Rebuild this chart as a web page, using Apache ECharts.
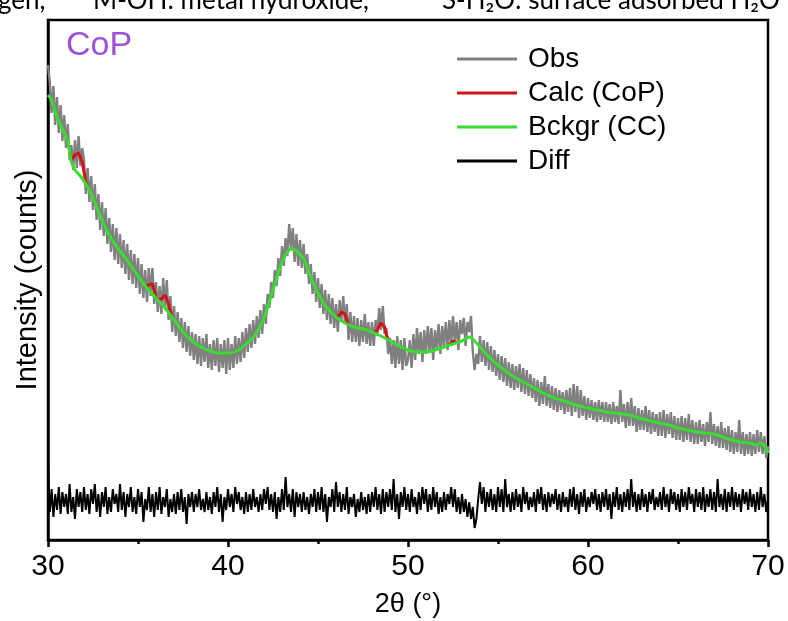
<!DOCTYPE html>
<html>
<head>
<meta charset="utf-8">
<script src="https://cdn.jsdelivr.net/npm/echarts@6/dist/echarts.min.js"></script>
<style>
html,body{margin:0;padding:0;background:#fff;}
#chart{width:788px;height:621px;}
</style>
</head>
<body>
<div id="chart"></div>
<script>
// ---- data ----
const xTicks = [30, 40, 50, 60, 70];
const thetaStart = 30;
const thetaStep = 0.1;

// observed intensity, one value per 0.1 degree from 30.0 to 70.0
const obsY = [
475,458,427,454,415,443,407,435,399,425,
392,416,380,395,370,400,372,404,374,392,
380,346,372,338,364,330,356,320,346,310,
338,304,332,296,322,288,316,280,312,276,
306,272,300,266,296,260,290,256,286,252,
282,246,276,242,270,238,272,244,272,236,
258,228,254,226,262,232,260,220,244,208,
234,204,228,198,222,192,218,188,214,184,
208,180,206,176,204,174,202,178,206,172,
196,170,200,174,202,168,196,172,200,166,
202,170,196,172,204,176,202,178,208,182,
212,188,216,192,220,196,224,202,230,206,
236,216,246,232,258,242,270,254,282,264,
294,274,302,284,316,292,312,278,306,274,
300,272,296,266,286,256,276,246,268,238,
262,232,256,226,250,220,246,216,242,212,
236,208,240,218,244,216,236,200,228,198,
224,198,222,194,220,198,226,196,218,194,
218,194,220,204,232,210,234,206,212,186,
202,176,200,172,204,176,200,170,202,174,
180,200,172,206,180,212,186,208,178,210,
186,214,188,212,180,210,190,216,186,214,
194,218,190,220,196,224,198,218,190,220,
206,222,194,218,208,224,188,170,186,176,
204,178,200,174,198,170,194,168,190,164,
186,160,184,158,182,154,178,152,176,150,
174,152,176,148,172,146,170,144,166,142,
162,138,160,134,158,136,164,134,156,132,
154,130,152,128,150,130,148,126,150,128,
152,124,156,128,154,122,150,124,144,120,
142,122,140,120,138,118,140,120,138,118,
138,118,136,116,138,118,134,116,150,118,
136,112,138,114,142,114,134,108,132,110,
130,110,134,108,130,106,128,108,126,104,
128,104,130,102,126,106,128,102,124,100,
122,100,124,98,122,100,126,98,120,96,
118,96,120,98,116,94,118,98,128,96,
116,94,114,92,118,92,112,90,114,88,
110,86,108,88,120,86,108,84,106,86,
108,84,106,86,110,88,108,86,104,82,94
];

// difference curve (offset below the pattern), same 0.1 degree grid
const diffY = [
72,28,51,23,46,30,53,26,48,33,
46,26,56,28,43,21,51,33,48,28,
53,30,46,26,51,36,56,28,46,23,
48,33,53,26,43,28,51,36,46,28,
56,30,48,23,46,33,53,28,43,26,
51,33,48,18,41,30,53,28,46,23,
48,30,53,26,43,33,51,23,41,28,
46,26,48,30,51,28,43,16,46,33,
48,28,46,33,51,30,41,28,48,30,
43,26,48,33,53,28,46,18,43,30,
51,33,46,28,53,36,48,30,43,26,
48,28,46,30,51,33,43,28,46,30,
51,36,53,30,46,28,48,21,43,28,
51,30,63,33,46,28,51,23,48,33,
46,28,48,30,43,26,46,33,51,28,
48,30,53,28,46,18,43,33,51,28,
58,33,48,28,46,30,53,26,43,33,
46,23,41,28,48,30,43,26,46,28,
48,33,53,30,46,26,51,28,48,33,
51,30,61,28,46,21,48,33,53,30,
46,28,51,33,43,26,48,30,53,36,
51,28,46,30,53,33,48,26,43,28,
48,30,46,36,53,33,51,28,43,26,
46,28,41,23,38,21,33,12,21,41,
58,36,53,28,48,33,51,30,46,28,
53,33,51,28,61,33,46,28,48,30,
51,33,46,28,53,36,48,30,43,33,
48,28,51,36,53,30,46,28,48,33,
46,36,51,30,46,28,48,33,43,28,
51,33,53,30,46,26,48,33,51,28,
43,33,48,36,51,30,46,28,48,33,
51,30,46,21,48,33,53,30,46,28,
48,33,51,30,61,33,48,28,46,30,
51,33,46,28,48,36,51,30,43,33,
48,30,53,33,46,28,51,36,48,30,
46,28,51,33,48,30,53,36,46,28,
51,33,48,30,53,28,46,33,51,30,
48,28,61,33,46,30,51,28,48,33,
53,30,48,33,46,28,51,36,48,30,
51,33,46,28,48,30,53,33,46,28,41
];

// background (CC) curve
const bgX = [30.0,30.2,30.5,30.8,31.1,31.3,31.5,31.8,32.2,32.6,33.0,33.5,34.0,34.5,35.0,35.5,36.0,36.5,37.0,37.5,38.0,38.5,39.0,39.5,40.0,40.5,41.0,41.5,42.0,42.5,43.0,43.3,43.5,43.8,44.2,44.6,45.0,45.5,46.0,46.5,47.0,47.5,48.0,48.5,49.0,49.5,50.0,50.5,51.0,51.5,52.0,52.5,53.0,53.4,53.7,54.0,54.5,55.0,55.5,56.0,56.5,57.0,57.5,58.0,58.5,59.0,59.5,60.0,60.5,61.0,61.5,62.0,62.5,63.0,63.5,64.0,64.5,65.0,65.5,66.0,66.5,67.0,67.5,68.0,68.5,69.0,69.3,69.6,69.8,70.0];
const bgY = [445,440,423,411,398,378,370,364,353,338,320,302,289,277,264,252,242,232,220,208,199,193,189,187,187,189,196,205,222,250,278,288,291,289,281,263,247,232,223,217,213,211,208,204,199,194,190,188,188,190,193,196,199,203,199,193,183,175,168,162,157,152,147,143,140,137,134,132,130,128,127,126,124,121,119,117,115,112,110,108,107,106,103,100,98,97,95,97,94,87];

// calculated (CoP) curve near the reflections; '-' marks a gap
const calcX = [31.2,31.3,31.4,31.5,31.6,31.7,31.8,31.9,32.0,32.1,32.2, 32.25,
  35.4,35.5,35.6,35.7,35.8,35.9,36.0,36.1,36.2,36.3,36.4,36.5,36.6,36.7,36.8,36.9, 36.95,
  46.0,46.1,46.2,46.3,46.4,46.5,46.6,46.7, 46.75,
  48.1,48.2,48.3,48.4,48.5,48.6,48.7,48.8,48.9, 48.95,
  52.3,52.4,52.5,52.6,52.7];
const calcY = [388,380,382,385,386,387,385,378,368,358,353,'-',
  254,253,255,257,256,250,243,240,240,241,243,245,243,236,228,222,'-',
  223,223,225,228,229,226,220,215,'-',
  207,207,210,214,217,218,213,205,200,'-',
  195,197,199,198,197];

const seriesNames = ['Obs', 'Calc (CoP)', 'Bckgr (CC)', 'Diff'];

// ---- build ----
const pairs = (xs, ys) => xs.map((x, i) => [x, ys[i]]);
const grid = (ys) => ys.map((v, i) => [+(thetaStart + i * thetaStep).toFixed(2), v]);

const chart = echarts.init(document.getElementById('chart'), null, {renderer: 'canvas'});
const FONT = "'Liberation Sans', Arial, sans-serif";
const TOPFONT = "26px Lato, 'Open Sans', sans-serif";

chart.setOption({
  animation: false,
  backgroundColor: '#ffffff',
  grid: {left: 48, right: 20, top: 20, bottom: 81, outerBoundsMode: 'none', containLabel: false,
         show: true, borderColor: '#000', borderWidth: 2.5, backgroundColor: 'transparent'},
  graphic: [
    {type: 'text', left: -2, top: -12, style: {text: 'gen,', font: TOPFONT, fill: '#000'}},
    {type: 'text', left: 93, top: -12, style: {text: 'M-OH: metal hydroxide,', font: TOPFONT, fill: '#000'}},
    {type: 'text', left: 442, top: -12, style: {text: 'S-H\u2082O: surface adsorbed H\u2082O', font: TOPFONT, fill: '#000'}},
    {type: 'text', left: 66, top: 29, style: {text: 'CoP', font: '34px ' + FONT, fill: '#9b52d6'}}
  ],
  legend: {
    orient: 'vertical', left: 457, top: 45, padding: 0,
    icon: 'rect', itemWidth: 60, itemHeight: 3, itemGap: 6,
    textStyle: {fontFamily: FONT, fontSize: 28, color: '#000', padding: [0, 0, 0, 6]},
    data: seriesNames
  },
  xAxis: {
    type: 'value', min: xTicks[0], max: xTicks[xTicks.length - 1], interval: 10,
    name: '2\u03b8 (\u00b0)', nameLocation: 'middle', nameGap: 51,
    nameTextStyle: {fontFamily: FONT, fontSize: 27, color: '#000'},
    axisLine: {lineStyle: {color: '#000', width: 2.5}},
    axisTick: {show: true, inside: false, length: 7, lineStyle: {color: '#000', width: 2.5}},
    minorTick: {show: true, splitNumber: 2, length: 4, lineStyle: {color: '#000', width: 2.5}},
    axisLabel: {fontFamily: FONT, fontSize: 30, color: '#000', margin: 12},
    splitLine: {show: false}
  },
  yAxis: {
    type: 'value', min: 0, max: 520,
    name: 'Intensity (counts)', nameLocation: 'middle', nameGap: 6,
    nameTextStyle: {fontFamily: FONT, fontSize: 29, color: '#000'},
    axisLine: {show: true, lineStyle: {color: '#000', width: 2.5}},
    axisTick: {show: false}, axisLabel: {show: false}, splitLine: {show: false}
  },
  series: [
    {name: seriesNames[0], type: 'line', data: grid(obsY), showSymbol: false, z: 2,
     color: '#808080', lineStyle: {color: '#808080', width: 2.4}},
    {name: seriesNames[1], type: 'line', data: pairs(calcX, calcY), showSymbol: false, connectNulls: false, z: 3,
     color: '#d41414', lineStyle: {color: '#d41414', width: 3}},
    {name: seriesNames[2], type: 'line', data: pairs(bgX, bgY), showSymbol: false, smooth: 0.3, z: 4,
     color: '#3adc32', lineStyle: {color: '#3adc32', width: 3}},
    {name: seriesNames[3], type: 'line', data: grid(diffY), showSymbol: false, z: 5,
     color: '#000000', lineStyle: {color: '#000000', width: 2}}
  ]
});
</script>
</body>
</html>
